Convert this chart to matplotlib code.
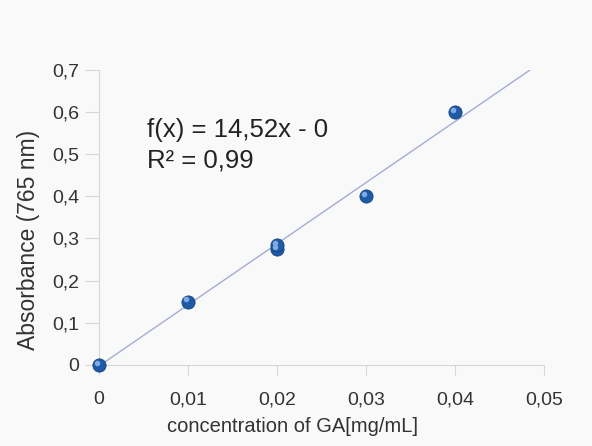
import matplotlib
matplotlib.use('Agg')
import matplotlib.pyplot as plt

plt.rcParams['font.family'] = ['Liberation Sans', 'DejaVu Sans']

# 数据
conc = [0.0, 0.01, 0.02, 0.02, 0.03, 0.04]
absorb = [0.0, 0.15, 0.275, 0.285, 0.40, 0.60]
slope = 14.52
intercept = -0.003
fit_x = [0.0, 0.0484]

x_ticks = [0, 0.01, 0.02, 0.03, 0.04, 0.05]
x_labels = ['0', '0,01', '0,02', '0,03', '0,04', '0,05']
y_ticks = [0, 0.1, 0.2, 0.3, 0.4, 0.5, 0.6, 0.7]
y_labels = ['0', '0,1', '0,2', '0,3', '0,4', '0,5', '0,6', '0,7']

bg = '#f9f9f9'
fig = plt.figure(figsize=(5.92, 4.46), dpi=100, facecolor=bg)
ax = fig.add_axes([0.167, 0.182, 0.752, 0.661], facecolor=bg)

# 趋势线
ax.plot(fit_x, [slope * x + intercept for x in fit_x], color='#a3acd8', lw=1.0, zorder=2)

# 数据点 (模拟球形)
ax.scatter(conc, absorb, s=90, color='#1f5aa8', edgecolor='#17437e', lw=0.6, zorder=3, clip_on=False)
ax.scatter(conc, absorb, s=16, color='#80aae2', lw=0, zorder=4, clip_on=False,
           transform=ax.transData + matplotlib.transforms.ScaledTranslation(-1.6/72, 1.6/72, fig.dpi_scale_trans))

ax.set_xlim(0, 0.05)
ax.set_ylim(0, 0.7)
ax.set_xticks(x_ticks, x_labels)
ax.set_yticks(y_ticks, y_labels)
ax.tick_params(axis='both', colors='#d6d6d6', labelcolor='#333333', labelsize=14)
ax.tick_params(axis='y', length=10, pad=4)
ax.tick_params(axis='x', length=7, pad=12)

for s in ['top', 'right']:
    ax.spines[s].set_visible(False)
for s in ['left', 'bottom']:
    ax.spines[s].set_color('#d6d6d6')

ax.set_xlabel('concentration of GA[mg/mL]', fontsize=14.5, color='#333333')
ax.set_ylabel('Absorbance (765 nm)', fontsize=16.5, color='#333333')
ax.xaxis.set_label_coords(0.434, -0.178)
ax.yaxis.set_label_coords(-0.133, 0.424)

ax.text(0.0054, 0.585, 'f(x) = 14,52x - 0\nR² = 0,99', fontsize=18.5, color='#222222',
        va='top', ha='left', linespacing=1.3)

fig.savefig('out.png', dpi=100, facecolor=bg)
